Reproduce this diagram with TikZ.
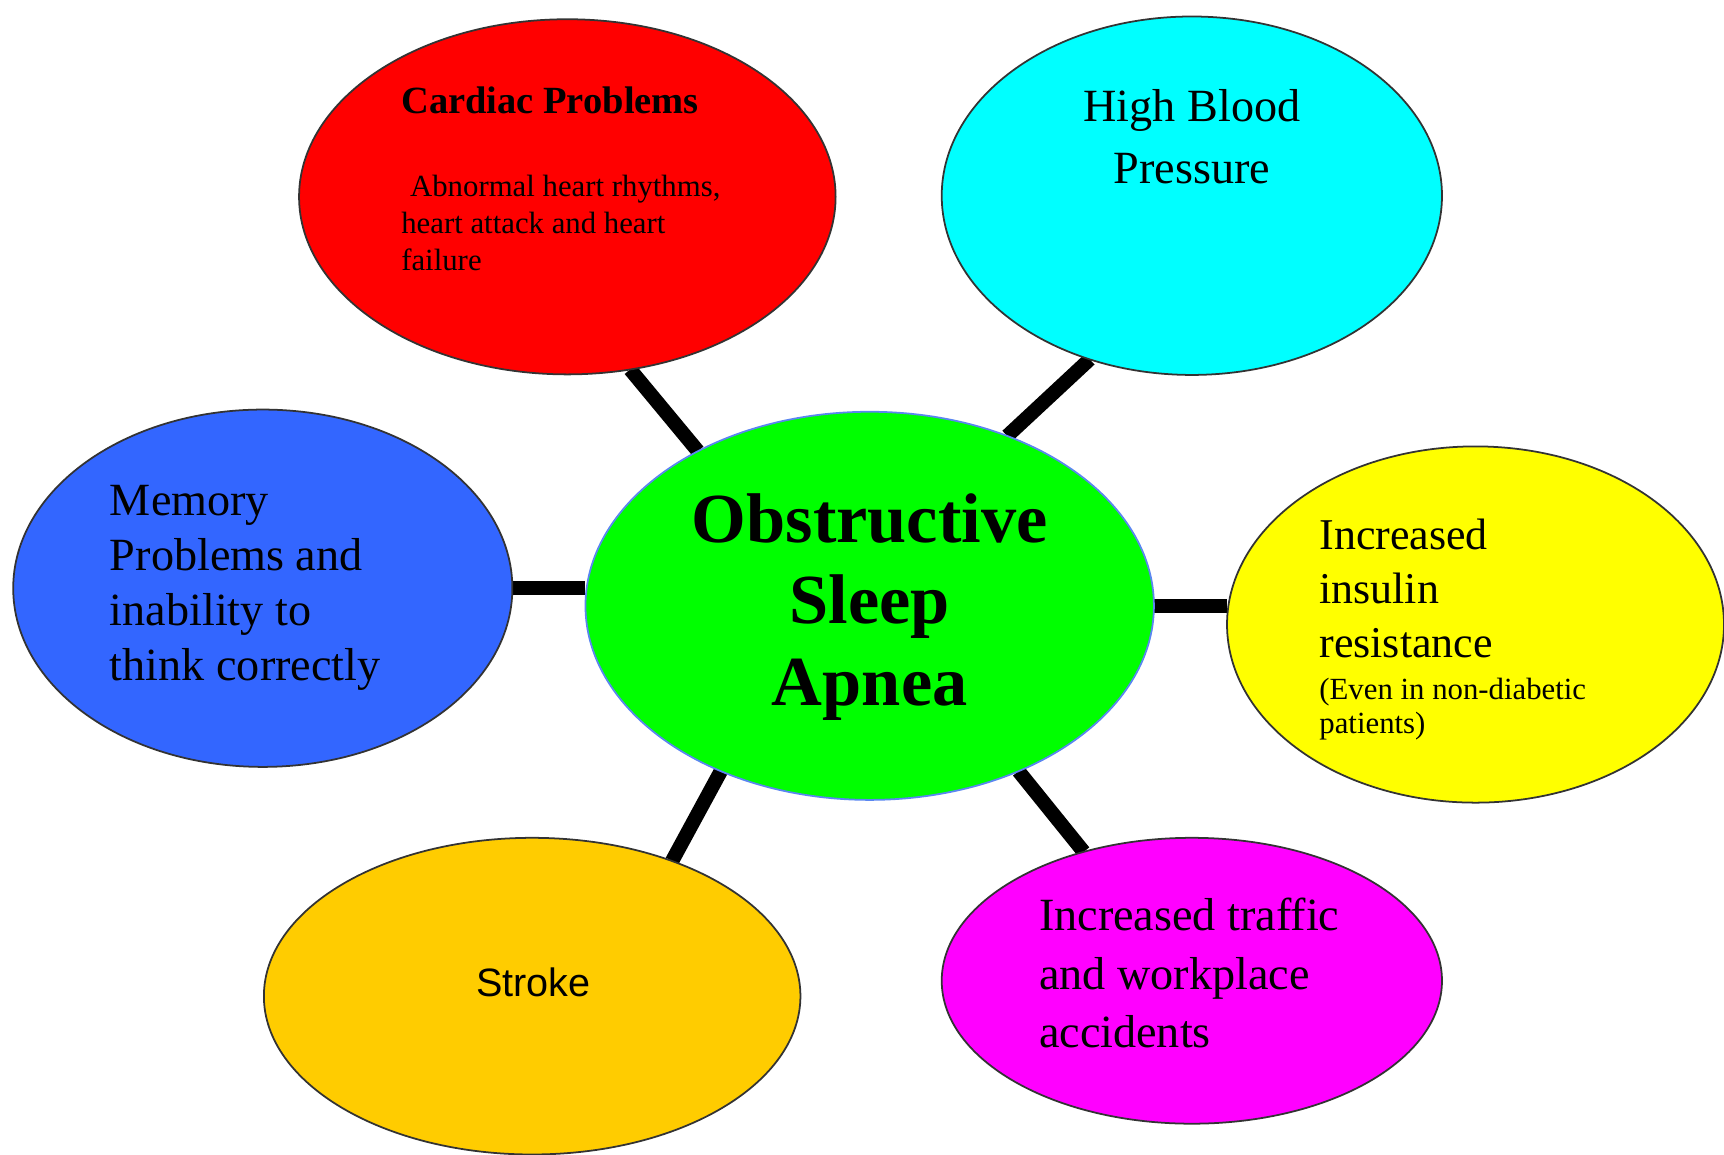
\documentclass[tikz,border=0pt]{standalone}
\usepackage{fontspec}
\setmainfont{Liberation Serif}
\newfontfamily\strokefont{Liberation Sans}
\usetikzlibrary{shapes.geometric,backgrounds}
\definecolor{cRed}{HTML}{FF0000}
\definecolor{cCyan}{HTML}{00FFFF}
\definecolor{cBlue}{HTML}{3366FF}
\definecolor{cYellow}{HTML}{FFFF00}
\definecolor{cGreen}{HTML}{00FF00}
\definecolor{cOrange}{HTML}{FFCC00}
\definecolor{cMagenta}{HTML}{FF00FF}
\definecolor{cRim}{HTML}{333333}
\definecolor{cGreenRim}{HTML}{5A86F0}
\tikzset{
  bubble/.style={ellipse, draw=cRim, line width=1.6pt, inner sep=0pt, outer sep=0pt},
  link/.style={line width=13pt, black},
  txt/.style={inner sep=0pt, outer sep=0pt, text=black},
}
\begin{document}
\begin{tikzpicture}[x=1pt,y=-1pt]
\useasboundingbox (0,0) rectangle (1568,1050);

% bubbles
\node[bubble, fill=cGreen, draw=cGreenRim, minimum width=517pt, minimum height=353pt] (osa) at (791,551) {};
\node[bubble, fill=cRed, minimum width=488pt, minimum height=323pt] (cardiac) at (516,179) {};
\node[bubble, fill=cCyan, minimum width=455pt, minimum height=326pt] (bp) at (1084,178) {};
\node[bubble, fill=cBlue, minimum width=454pt, minimum height=325pt] (memory) at (239,535) {};
\node[bubble, fill=cYellow, minimum width=452pt, minimum height=324pt] (insulin) at (1342,568) {};
\node[bubble, fill=cOrange, minimum width=488pt, minimum height=288pt] (stroke) at (484,906) {};
\node[bubble, fill=cMagenta, minimum width=455pt, minimum height=260pt] (traffic) at (1084,892) {};

% connectors
\begin{pgfonlayer}{background}
\fill[white] (0,0) rectangle (1568,1050);
\draw[link] (cardiac.-70) -- (osa.138);
\draw[link] (bp.-122) -- (osa.51);
\draw[link] (memory.east) -- (memory.east -| osa.west);
\draw[link] (osa.east) -- (osa.east -| insulin.west);
\draw[link] (osa.-132) -- (stroke.44);
\draw[link] (osa.-48) -- (traffic.130);
\end{pgfonlayer}

% texts
\node[txt, anchor=north west, font=\fontsize{35}{40}\selectfont\bfseries] (t1) at (365,79) {Cardiac Problems};
\node[txt, anchor=north west, align=left, font=\fontsize{28}{34}\selectfont] (t2) at (365,159)
  {\hspace*{8pt}Abnormal heart rhythms,\\heart attack and heart\\failure};
\node[txt, anchor=north, align=center, font=\fontsize{42}{57}\selectfont] (t3) at (1084,81)
  {High Blood\\Pressure};
\node[txt, anchor=north west, align=left, font=\fontsize{42}{50}\selectfont] (t4) at (100,441)
  {Memory\\Problems and\\inability to\\think correctly};
\node[txt, anchor=north, align=center, font=\fontsize{64}{74}\selectfont\bfseries] (t5) at (791,449)
  {Obstructive\\Sleep\\Apnea};
\node[txt, anchor=north west, align=left, font=\fontsize{40}{49}\selectfont] (t6) at (1200,472)
  {Increased\\insulin\\resistance};
\node[txt, anchor=north west, align=left, font=\fontsize{28}{31}\selectfont] (t7) at (1200,617)
  {(Even in non-diabetic\\patients)};
\node[txt, font=\fontsize{36}{40}\selectfont\strokefont] (t8) at (485,893) {Stroke};
\node[txt, anchor=north west, align=left, font=\fontsize{42}{53}\selectfont] (t9) at (945,817)
  {Increased traffic\\and workplace\\accidents};
\end{tikzpicture}
\end{document}
